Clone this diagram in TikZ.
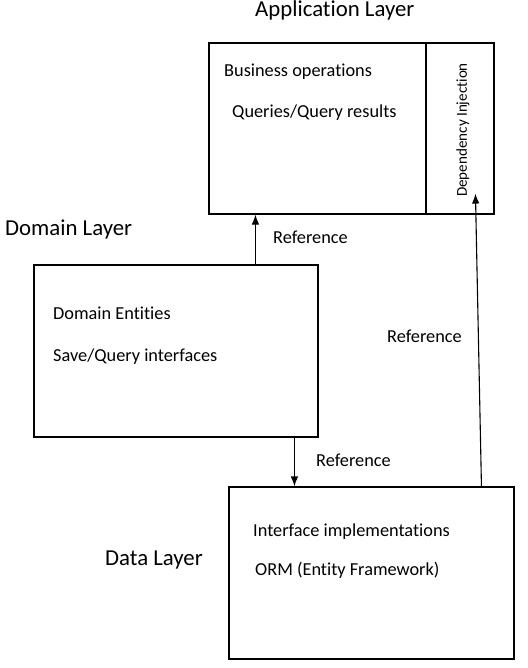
\documentclass[tikz,border=0pt]{standalone}
\usepackage{fontspec}
\setmainfont{Carlito}[Ligatures=NoCommon]
\usepackage{tikz}
\usetikzlibrary{arrows.meta}
\tikzstyle{Box}=[draw,line width=1.1pt,inner sep=0pt]
\tikzstyle{Edge}=[draw,line width=1.1pt,-{Latex[length=10pt,width=7.5pt]}]
\tikzstyle{NodeST}=[anchor=base west,inner sep=0pt,font=\fontsize{18.3}{20}\selectfont]
\tikzstyle{Layer}=[anchor=base west,inner sep=0pt,font=\fontsize{22.8}{25}\selectfont]

\begin{document}
\begin{tikzpicture}[x=1pt,y=-1pt]
        \useasboundingbox(0,0)rectangle(527,668);
        \node[Box,minimum width=217pt,minimum height=171pt](app)at(317.5,128.5){};
        \node[Box,minimum width=68pt,minimum height=171pt](di)at(460.0,128.5){};
        \node[Box,minimum width=284pt,minimum height=172pt](dom)at(176.0,351.0){};
        \node[Box,minimum width=285pt,minimum height=172pt](data)at(371.5,573.0){};
        \node[Layer](tapp)at(255,17){Application Layer};
        \node[Layer](tdom)at(5,235){Domain Layer};
        \node[Layer](tdata)at(105,565){Data Layer};
        \node[NodeST](a1)at(224,77){Business operations};
        \node[NodeST](a2)at(232,118){Queries/Query results};
        \node[inner sep=0pt,rotate=90,font=\fontsize{15.1}{17}\selectfont](tdi)
            at(463,130){Dependency Injection};
        \node[NodeST](d1)at(53,319){Domain Entities};
        \node[NodeST](d2)at(53,361){Save/Query interfaces};
        \node[NodeST](i1)at(253,536){Interface implementations};
        \node[NodeST](i2)at(255,575){ORM (Entity Framework)};
        \node[NodeST](r1)at(273,243){Reference};
        \node[NodeST](r2)at(387,342){Reference};
        \node[NodeST](r3)at(316,466){Reference};
        \draw[Edge]([xshift=222pt]dom.north west)--([xshift=47pt]app.south west);
        \draw[Edge]([xshift=261pt]dom.south west)--([xshift=66pt]data.north west);
        \draw[Edge]([xshift=253pt]data.north west)--([xshift=50pt,yshift=21pt]di.south west);
    \end{tikzpicture}
\end{document}
